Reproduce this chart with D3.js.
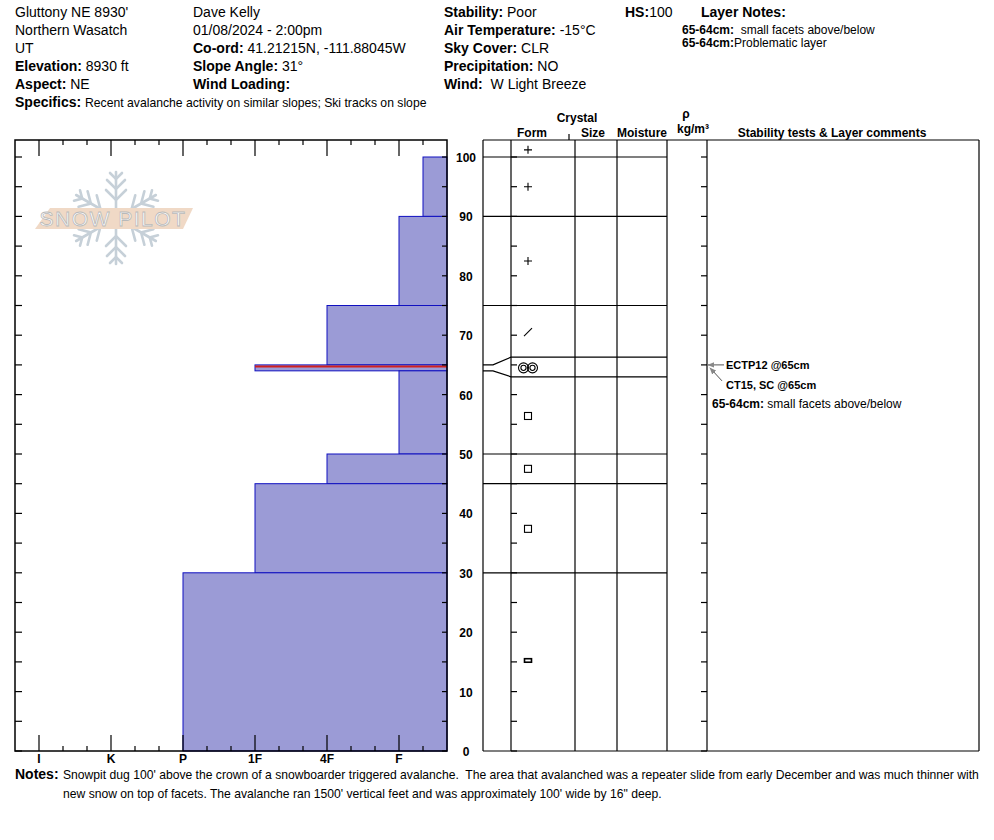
<!DOCTYPE html>
<html>
<head>
<meta charset="utf-8">
<script src="https://cdn.jsdelivr.net/npm/d3@7"></script>
<style>
  body { margin: 0; background: #fff; }
  svg text { font-family: "Liberation Sans", Arial, sans-serif; white-space: pre; }
</style>
</head>
<body>
<svg id="chart" width="994" height="840"></svg>
<script>
// Snow profile layers (cm from ground)
const layerTops = [100, 90, 75, 65, 64, 50, 45, 30];
const layerBottoms = [90, 75, 65, 64, 50, 45, 30, 0];
const layerHardness = ["F-", "F", "4F", "1F", "F", "4F", "1F", "P"];

// hand hardness -> thirds of a step, counted from the right edge
const hardnessCodes = ["F-", "F", "4F", "1F", "P", "K", "I"];
const hardnessValues = [1, 2, 5, 8, 11, 14, 17];
const hardnessTickLabels = ["I", "K", "P", "1F", "4F", "F"];

const depthTicks = [0, 10, 20, 30, 40, 50, 60, 70, 80, 90, 100];

// grain table
const tableBoundaries = [100, 90, 75, 50, 45, 30];
const thinLayer = [65, 64];          // real depth of the thin layer
const thinLayerShown = [66.3, 63.0]; // where the table spreads it
const grainDepths = [101.2, 95, 82.5, 70.5, 64.5, 56.4, 47.5, 37.4, 15.2];
const grainForms = ["PP", "PP", "PP", "DF", "MF", "FC", "FC", "FC", "FCsm"];

const headerLeft = [
  [["", "Gluttony NE 8930'"]],
  [["", "Northern Wasatch"]],
  [["", "UT"]],
  [["Elevation:", " 8930 ft"]],
  [["Aspect:", " NE"]]
];
const headerMid = [
  [["", "Dave Kelly"]],
  [["", "01/08/2024 - 2:00pm"]],
  [["Co-ord:", " 41.21215N, -111.88045W"]],
  [["Slope Angle:", " 31°"]],
  [["Wind Loading:", ""]]
];
const headerRight = [
  [["Stability:", " Poor"]],
  [["Air Temperature:", " -15°C"]],
  [["Sky Cover:", " CLR"]],
  [["Precipitation:", " NO"]],
  [["Wind:", "  W Light Breeze"]]
];
const layerNotes = [
  ["65-64cm:", "  small facets above/below"],
  ["65-64cm:", "Problematic layer"]
];
const specifics = "Recent avalanche activity on similar slopes; Ski tracks on slope";
const notesLines = [
  "Snowpit dug 100' above the crown of a snowboarder triggered avalanche.  The area that avalanched was a repeater slide from early December and was much thinner with",
  "new snow on top of facets. The avalanche ran 1500' vertical feet and was approximately 100' wide by 16\" deep."
];
const stabilityTests = ["ECTP12 @65cm", "CT15, SC @65cm"];
const layerComment = ["65-64cm:", " small facets above/below"];

const svg = d3.select("#chart");

// scales
const y = d3.scaleLinear().domain([0, 100]).range([751, 157]);
const x = d3.scaleLinear().domain([18, 0]).range([15, 447]);
const plotTop = 140, plotBottom = 751;
const hv = code => hardnessValues[hardnessCodes.indexOf(code)];

// ---- header text ----
function richLine(g, xPos, yPos, parts, size, boldSize) {
  const t = g.append("text").attr("x", xPos).attr("y", yPos).attr("font-size", size);
  parts.forEach(([b, n]) => {
    if (b) {
      const s = t.append("tspan").attr("font-weight", "bold").text(b);
      if (boldSize) s.attr("font-size", boldSize);
    }
    if (n) t.append("tspan").text(n);
  });
  return t;
}
const header = svg.append("g");
[[headerLeft, 15], [headerMid, 193], [headerRight, 444]].forEach(([rows, cx]) => {
  rows.forEach((r, i) => richLine(header, cx, 17 + i * 18, r, 14));
});
richLine(header, 625, 17, [["HS:", "100"]], 14);
richLine(header, 701, 17, [["Layer Notes:", ""]], 14);
layerNotes.forEach((r, i) => richLine(header, 682, 34 + i * 13, [r], 12, 12));
const spec = header.append("text").attr("x", 15).attr("y", 107);
spec.append("tspan").attr("font-weight", "bold").attr("font-size", 14).text("Specifics: ");
spec.append("tspan").attr("font-size", 12.2).text(specifics);

// ---- logo ----
const logo = svg.append("g").attr("transform", "translate(116,218)");
const flakeColor = "#c6d0d8";
for (let k = 0; k < 6; k++) {
  const a = logo.append("g").attr("transform", `rotate(${k * 60})`)
    .attr("stroke", flakeColor).attr("stroke-width", 2.6).attr("fill", "none")
    .attr("stroke-linecap", "round");
  a.append("line").attr("x1", 0).attr("y1", -8).attr("x2", 0).attr("y2", -46);
  [[-18, 10], [-29, 9], [-39, 6]].forEach(([p, w]) => {
    a.append("path").attr("d", `M${-w},${p - w}L0,${p}L${w},${p - w}`);
  });
}
logo.append("path")
  .attr("d", "M-81,11L-66,-10L77,-10L67,11Z")
  .attr("fill", "#f0d9c6");
logo.append("text")
  .attr("x", -3).attr("y", 8).attr("text-anchor", "middle")
  .attr("font-size", 21).attr("letter-spacing", 1.5)
  .attr("fill", "#ffffff").attr("stroke", "#b9b9b9").attr("stroke-width", 0.8)
  .text("SNOW PILOT");

// ---- hardness profile ----
const prof = svg.append("g");
const layers = layerTops.map((t, i) => ({ top: t, bottom: layerBottoms[i], h: layerHardness[i] }));
prof.selectAll("rect.layer").data(layers).join("rect")
  .attr("class", "layer")
  .attr("x", d => x(hv(d.h)))
  .attr("y", d => y(d.top))
  .attr("width", d => x(0) - x(hv(d.h)))
  .attr("height", d => y(d.bottom) - y(d.top))
  .attr("fill", "#9b9bd6")
  .attr("stroke", "#1010c0")
  .attr("stroke-width", 1);
// problem layer marker
prof.append("line")
  .attr("x1", x(hv("1F"))).attr("x2", x(0))
  .attr("y1", y(thinLayer[0]) + 1.5).attr("y2", y(thinLayer[0]) + 1.5)
  .attr("stroke", "#d02020").attr("stroke-width", 2);

// frame
prof.append("rect").attr("x", 15).attr("y", plotTop).attr("width", 432)
  .attr("height", plotBottom - plotTop).attr("fill", "none")
  .attr("stroke", "#000").attr("stroke-width", 1.5);

// hardness ticks top and bottom
const hTicks = d3.range(1, 18);
const majors = [2, 5, 8, 11, 14, 17];
prof.selectAll("line.tb").data(hTicks).join("line").attr("class", "tb")
  .attr("x1", d => x(d)).attr("x2", d => x(d))
  .attr("y1", plotTop).attr("y2", d => plotTop + (majors.includes(d) ? 16 : 5))
  .attr("stroke", "#000").attr("stroke-width", 1.2);
prof.selectAll("line.bb").data(hTicks).join("line").attr("class", "bb")
  .attr("x1", d => x(d)).attr("x2", d => x(d))
  .attr("y1", plotBottom).attr("y2", d => plotBottom - (majors.includes(d) ? 16 : 5))
  .attr("stroke", "#000").attr("stroke-width", 1.2);
prof.selectAll("text.hl").data(hardnessTickLabels).join("text").attr("class", "hl")
  .attr("x", (d, i) => x(majors[majors.length - 1 - i]))
  .attr("y", 763).attr("text-anchor", "middle")
  .attr("font-size", 12).attr("font-weight", "bold").text(d => d);

// depth ticks every 5 cm
const fine = d3.range(0, 101, 5);
function sideTicks(xPos, dir, len) {
  prof.append("g").selectAll("line").data(fine).join("line")
    .attr("x1", xPos).attr("x2", xPos + dir * len)
    .attr("y1", d => y(d)).attr("y2", d => y(d))
    .attr("stroke", "#000").attr("stroke-width", 1.2);
}
sideTicks(15, 1, 7);
sideTicks(447, -1, 5);
sideTicks(511, 1, 6);
sideTicks(707, -1, 6);

svg.append("g").selectAll("text").data(depthTicks).join("text")
  .attr("x", 466).attr("y", d => y(d) + 5).attr("text-anchor", "middle")
  .attr("font-size", 12).attr("font-weight", "bold").text(d => d);

// ---- grain table ----
const tbl = svg.append("g").attr("stroke", "#000").attr("stroke-width", 1.2);
[483, 511, 575, 617, 667, 707, 979].forEach(cx => {
  tbl.append("line").attr("x1", cx).attr("x2", cx).attr("y1", plotTop).attr("y2", plotBottom);
});
tbl.append("line").attr("x1", 483).attr("x2", 979).attr("y1", plotTop).attr("y2", plotTop);
tbl.append("line").attr("x1", 483).attr("x2", 979).attr("y1", plotBottom).attr("y2", plotBottom);
tbl.selectAll("line.bd").data(tableBoundaries).join("line").attr("class", "bd")
  .attr("x1", 483).attr("x2", 667).attr("y1", d => y(d)).attr("y2", d => y(d));
thinLayer.forEach((d, i) => {
  const ys = y(thinLayerShown[i]);
  tbl.append("path").attr("fill", "none")
    .attr("d", `M483,${y(d)}L493,${y(d)}L511,${ys}L667,${ys}`);
});
tbl.append("line").attr("x1", 569).attr("x2", 569).attr("y1", 134).attr("y2", 140);

// grain symbols
const gx = 528;
const sym = svg.append("g").attr("stroke", "#000").attr("fill", "none").attr("stroke-width", 1.1);
grainDepths.forEach((d, i) => {
  const cy = y(d), f = grainForms[i];
  if (f === "PP") {
    sym.append("path").attr("d", `M${gx - 4},${cy}H${gx + 4}M${gx},${cy - 4}V${cy + 4}`);
  } else if (f === "DF") {
    sym.append("line").attr("x1", gx - 4).attr("y1", cy + 4).attr("x2", gx + 4).attr("y2", cy - 4);
  } else if (f === "MF") {
    [gx - 4.5, gx + 4.5].forEach(cx => {
      sym.append("circle").attr("cx", cx).attr("cy", cy).attr("r", 5);
      sym.append("circle").attr("cx", cx).attr("cy", cy).attr("r", 2.6);
    });
  } else if (f === "FC") {
    sym.append("rect").attr("x", gx - 3.5).attr("y", cy - 3.5).attr("width", 7).attr("height", 7);
  } else {
    sym.append("rect").attr("x", gx - 3.5).attr("y", cy - 2).attr("width", 7).attr("height", 3.5)
      .attr("stroke-width", 1.6);
  }
});

// column headers
const hdr = svg.append("g").attr("font-size", 12).attr("font-weight", "bold").attr("text-anchor", "middle");
[["Crystal", 577, 122], ["Form", 532, 137], ["Size", 593, 137], ["Moisture", 642, 137],
 ["ρ", 686, 118], ["kg/m³", 693, 133], ["Stability tests & Layer comments", 832, 137]]
  .forEach(([t, cx, cy]) => hdr.append("text").attr("x", cx).attr("y", cy).text(t));

// stability tests
const st = svg.append("g");
const arrowY = y(65);
st.append("defs").append("marker").attr("id", "ah").attr("viewBox", "0 0 10 10")
  .attr("refX", 9).attr("refY", 5).attr("markerWidth", 7).attr("markerHeight", 7)
  .attr("orient", "auto").append("path").attr("d", "M0,1L10,5L0,9Z").attr("fill", "#888");
st.append("line").attr("x1", 724).attr("y1", arrowY).attr("x2", 708).attr("y2", arrowY)
  .attr("stroke", "#555").attr("stroke-width", 1).attr("marker-end", "url(#ah)");
st.append("line").attr("x1", 722).attr("y1", arrowY + 16).attr("x2", 710).attr("y2", arrowY + 3)
  .attr("stroke", "#555").attr("stroke-width", 1).attr("marker-end", "url(#ah)");
st.append("text").attr("x", 726).attr("y", arrowY + 4).attr("font-size", 11).attr("font-weight", "bold")
  .text(stabilityTests[0]);
st.append("text").attr("x", 726).attr("y", arrowY + 24).attr("font-size", 11).attr("font-weight", "bold")
  .text(stabilityTests[1]);
richLine(st, 712, arrowY + 43, [layerComment], 12);

// notes
const nt = svg.append("g");
nt.append("text").attr("x", 15).attr("y", 779).attr("font-size", 14).attr("font-weight", "bold").text("Notes:");
notesLines.forEach((l, i) => nt.append("text").attr("x", 63).attr("y", 779 + i * 19)
  .attr("font-size", 12.15).text(l));
</script>
</body>
</html>
